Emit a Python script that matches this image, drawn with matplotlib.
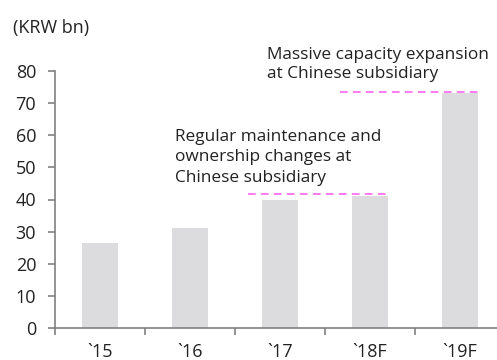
import matplotlib.pyplot as plt

plt.rcParams["font.family"] = ["Open Sans", "DejaVu Sans"]

# Capex by year (KRW bn)
years = ["`15", "`16", "`17", "`18F", "`19F"]
capex = [26.5, 31.0, 39.8, 41.1, 73.0]

# Annotated levels and their notes
note_levels = [41.8, 73.4]
note_spans = [(1.64, 3.2), (2.67, 4.2)]
note_texts = [
    "Regular maintenance and\nownership changes at\nChinese subsidiary",
    "Massive capacity expansion\nat Chinese subsidiary",
]
note_pos = [(0.83, 44.3), (1.86, 76.6)]
note_spacing = [1.36, 1.27]

fig = plt.figure(figsize=(4.97, 3.6), dpi=100)
ax = fig.add_axes([55 / 497, 32 / 360, 450 / 497, 257 / 360])

x = range(len(years))
ax.bar(x, capex, width=0.4, color="#dcdcde", zorder=2)

for lvl, (x0, x1) in zip(note_levels, note_spans):
    ax.plot([x0, x1], [lvl, lvl], color="#ff55ee", linestyle=(0, (5, 3.5)),
            linewidth=1.1, zorder=3)

for txt, (tx, ty), ls in zip(note_texts, note_pos, note_spacing):
    ax.text(tx, ty, txt, fontsize=12.4, color="#222222", ha="left", va="bottom",
            linespacing=ls)

ax.set_xlim(-0.5, 4.5)
ax.set_ylim(0, 80)
ax.set_yticks(range(0, 81, 10))
ax.set_xticks([i - 0.5 for i in range(5)], minor=False)
ax.set_xticklabels([])
ax.set_xticks(list(x), minor=True)
ax.set_xticklabels(years, minor=True)
ax.tick_params(axis="x", which="minor", length=0, pad=10.5, labelsize=13, colors="#222222")
ax.tick_params(axis="x", which="major", length=5, width=1.2, color="#808080")
ax.tick_params(axis="y", length=5, width=1.2, color="#808080", pad=8.5,
               labelsize=13, labelcolor="#222222")

for side in ["top", "right"]:
    ax.spines[side].set_visible(False)
for side in ["left", "bottom"]:
    ax.spines[side].set_color("#808080")
    ax.spines[side].set_linewidth(1.2)

fig.text(13 / 497, 1 - 28 / 360, "(KRW bn)", fontsize=13, color="#222222",
         ha="left", va="center")

fig.savefig("out.png", dpi=100)
